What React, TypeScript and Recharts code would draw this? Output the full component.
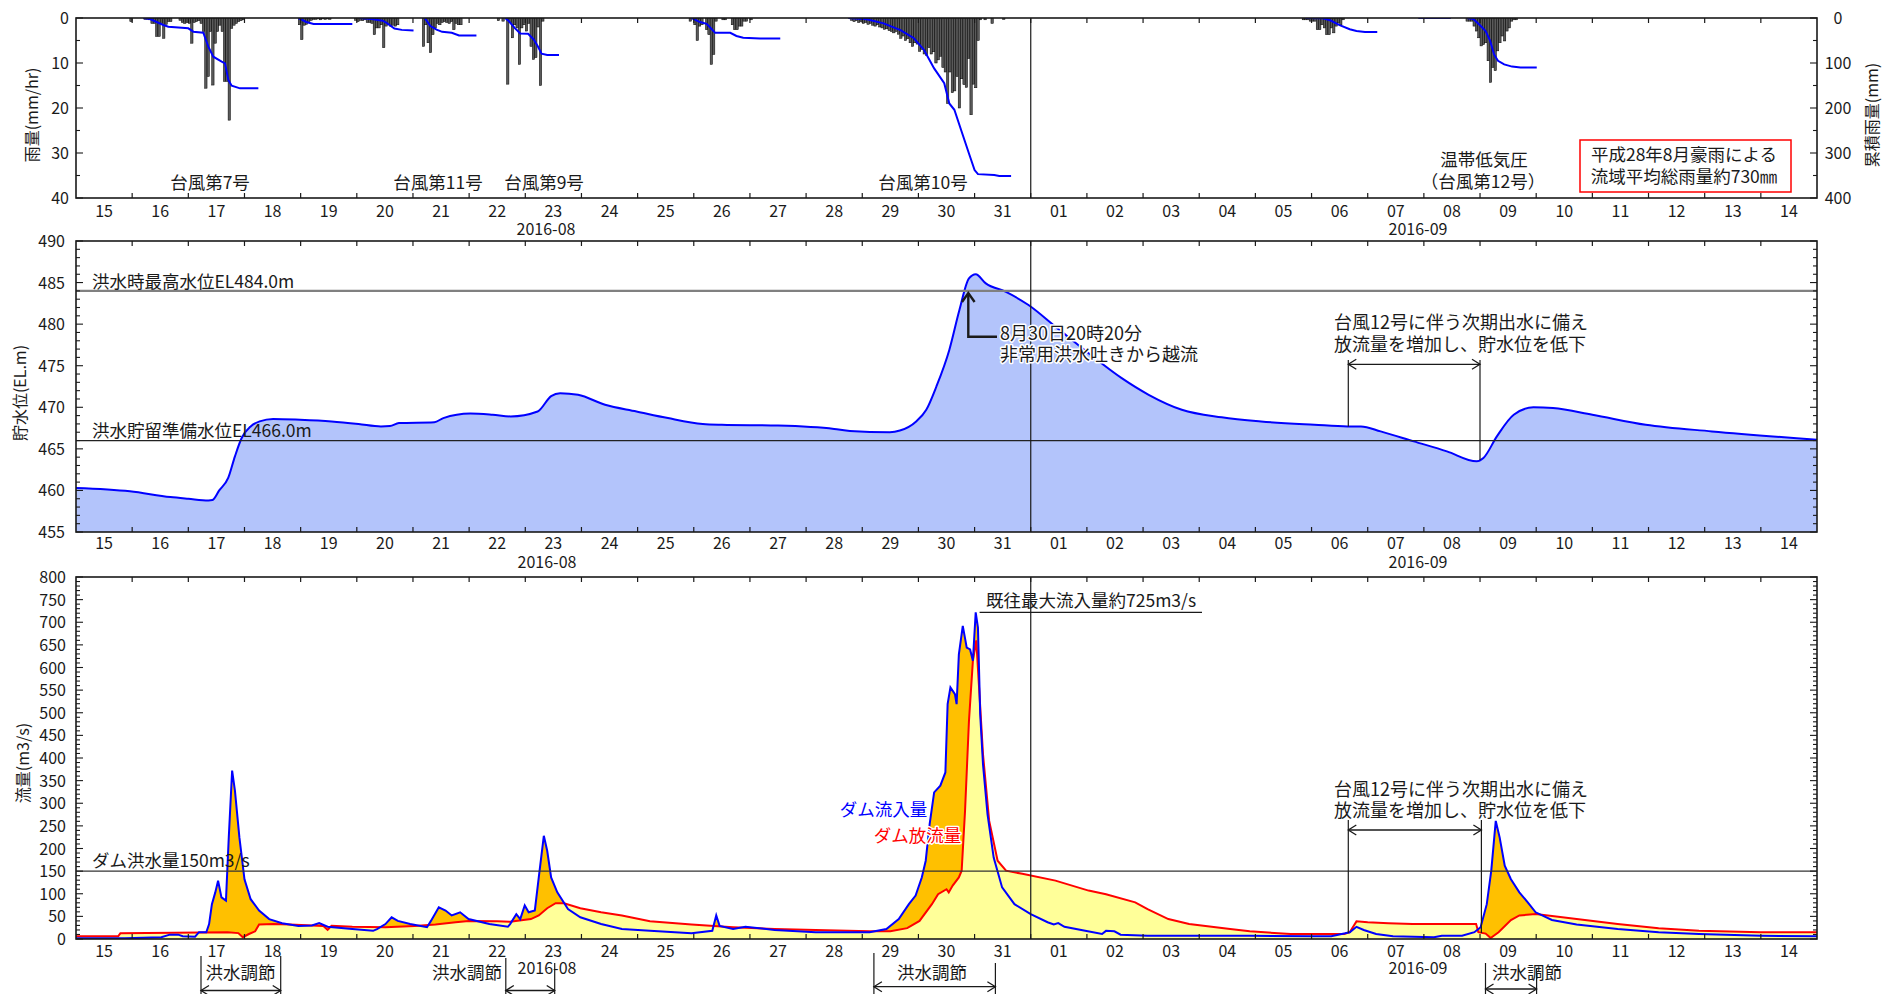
import React from 'react';
import { ComposedChart, Bar, Line, Area, XAxis, YAxis, ReferenceLine } from 'recharts';

const FONT = "'Noto Sans CJK JP', 'Noto Sans', sans-serif";
const PL = 76;
const PR = 1817;
const DAYW = (PR - PL) / 31;
const HOURW = DAYW / 24;

// x axis: days since 2016-08-15 00:00
const dayTicks = Array.from({ length: 32 }, (_, i) => i);
const dayLabels = ['15','16','17','18','19','20','21','22','23','24','25','26','27','28','29','30','31','01','02','03','04','05','06','07','08','09','10','11','12','13','14'];

// hourly rainfall (mm/hr); each storm: start hour (since Aug 15 00:00) + hourly values
const rainStartHours = [23, 29, 95, 119, 148, 180, 262, 331, 388, 524, 594];
const rainAug16 = [0.8];
const rainT7 = [0.3,0.3,0.4,1.2,1.2,4.1,4.1,1.2,4.5,1.4,0.8,0.8,0,0,0,0.5,1.0,1.2,1.0,1.2,5.6,1.0,0.8,0.6,1.2,3.0,15.6,13.0,3.0,14.9,5.6,3.0,1.6,3.0,14.1,14.1,22.7,2.3,1.6,1.2,0.8,0.6,0.4];
const rainAug19 = [1.5,4.8,1.6,1.4,0.8,0.5,0.3,0.3,0.2,0.4,0.2,0.3,0.2,0.3];
const rainAug20 = [0.5,0.8,0.5,0.6,0.4,1.0,1.0,1.2,3.7,2.2,2.2,1.5,6.6,1.8,1.5,1.8,1.6,1.8,1.5];
const rainT11 = [6.3,1.5,5.5,7.7,3.7,2.2,1.2,1.5,1.0,0.8,1.0,1.2,0.8,2.6,1.2,1.5,1.5];
const rainT9 = [0.6,0,0.7,0,14.7,1.0,4.4,1.5,2.2,10.3,2.2,1.5,2.9,1.2,6.3,9.2,8.8,2.0,15.0,0.7];
const rainAug26 = [0.7,0,1.5,5.0,1.8,1.5,0,2.6,3.7,10.3,8.1,0.7,0,0,0.4,0.4,0,0,1.5,2.6,2.6,1.8,1.8,0.7,0.7,0,0.4];
const rainT10 = [0.5,0.8,0.6,1.0,0.8,1.2,1.0,1.4,1.2,1.6,1.8,1.5,2.0,2.2,2.5,2.4,2.8,3.0,3.3,3.0,3.6,4.5,4.0,5.0,4.6,5.5,6.3,5.5,5.8,7.4,7.0,8.0,8.3,6.6,8.0,7.5,10.0,9.3,8.5,11.0,12.0,19.0,12.0,16.6,16.2,13.0,20.0,13.5,14.8,15.4,9.0,21.5,14.7,15.5,5.0,0.4];
const rainAug31 = [0.4,0,0,1.2,0,0,0,0,0.3];
const rainSep06 = [0.4,0.4,0.4,0.7,0.7,0.7,2.6,2.6,1.5,2.2,3.7,3.7,2.2,3.3,1.8,1.1,1.5,0.4];
const rainSep08 = [0.7,0.7,0.7,1.8,2.9,4.4,6.2,5.9,5.5,9.5,14.3,11.0,11.7,7.3,5.5,4.0,5.1,2.9,2.2,0.7,0.4,0.4];
const rainStorms = [rainAug16, rainT7, rainAug19, rainAug20, rainT11, rainT9, rainAug26, rainT10, rainAug31, rainSep06, rainSep08];

// cumulative rainfall per event [day, mm]
const cumT7: [number, number][] = [[1.2,0],[1.318,2.2],[1.555,15.6],[1.644,19.3],[2.0,23],[2.089,30.4],[2.267,32.6],[2.356,63.7],[2.445,86],[2.594,97],[2.653,100.7],[2.713,137.8],[2.772,150.4],[2.92,156.3],[3.247,156.3]];
const cumAug19: [number, number][] = [[3.96,0],[4.1,8.8],[4.23,13.2],[4.92,13.2]];
const cumAug20: [number, number][] = [[5.05,0],[5.26,2.2],[5.46,5.9],[5.53,11],[5.67,23.5],[5.8,26.4],[6.01,27.9]];
const cumT11: [number, number][] = [[6.21,0],[6.31,18],[6.42,25.7],[6.52,30.8],[6.69,33],[6.82,38.9],[7.13,38.9]];
const cumT9: [number, number][] = [[7.64,0],[7.71,7.3],[7.81,22],[7.91,34.5],[8.05,35.2],[8.15,47.7],[8.22,62.4],[8.29,79.3],[8.39,82.2],[8.6,82.2]];
const cumAug26: [number, number][] = [[10.96,0],[11.11,9],[11.23,13],[11.35,29],[11.38,33],[11.65,33],[11.76,40],[11.88,44],[12.18,45.5],[12.54,45.5]];
const cumT10: [number, number][] = [[13.75,0],[14.08,3],[14.38,12],[14.68,27],[14.92,45],[15.1,71],[15.28,112],[15.46,145],[15.55,190],[15.64,204],[15.76,249],[15.9,301],[16.0,338],[16.06,347],[16.35,349],[16.44,351],[16.65,351]];
const cumSep06: [number, number][] = [[21.89,0],[22.2,0.5],[22.33,5],[22.5,16],[22.68,25],[22.8,29],[22.95,31],[23.17,31]];
const cumSep07: [number, number][] = [[23.9,0],[24.48,0]];
const cumSep08: [number, number][] = [[24.77,0],[24.88,2],[24.99,15],[25.1,29],[25.18,51],[25.25,81],[25.32,95],[25.43,103],[25.57,108],[25.72,110],[26.01,110]];
const cumEvents = [cumT7, cumAug19, cumAug20, cumT11, cumT9, cumAug26, cumT10, cumSep06, cumSep07, cumSep08];

// reservoir water level [day, EL.m]
const waterLevel: [number, number][] = [[0,460.3],[0.96,459.9],[1.68,459.2],[2.0,459.0],[2.36,458.8],[2.43,458.85],[2.55,460.0],[2.71,461.5],[2.83,464.1],[2.95,466.3],[3.11,467.7],[3.27,468.3],[3.51,468.6],[3.99,468.5],[4.55,468.3],[5.03,468.0],[5.43,467.7],[5.59,467.75],[5.75,468.1],[6.38,468.2],[6.54,468.7],[7.02,469.25],[7.42,469.1],[7.74,468.9],[8.22,469.5],[8.46,471.35],[8.62,471.7],[8.94,471.5],[9.42,470.3],[9.98,469.5],[10.54,468.7],[11.16,468.0],[11.5,467.9],[12.5,467.8],[13.5,467.4],[13.78,467.15],[14.49,467.0],[14.67,467.2],[14.96,468.3],[15.14,469.7],[15.32,472.5],[15.55,476.9],[15.73,481.7],[15.9,485.5],[16.02,486.0],[16.2,484.9],[16.55,483.9],[16.96,482.3],[17.44,479.7],[18.03,476.5],[18.62,473.5],[19.1,471.5],[19.69,469.7],[20.4,468.8],[21.1,468.3],[22.05,467.9],[22.64,467.7],[22.88,467.7],[23.23,467.1],[23.82,465.9],[24.41,464.7],[24.94,463.5],[25.06,463.9],[25.3,466.5],[25.6,469.1],[25.95,470.0],[26.3,469.9],[27.0,469.1],[27.95,467.9],[29.13,467.1],[31,466.1]];

// dam inflow / outflow [day, m3/s]
const inflow: [number, number][] = [[0,1.5],[0.87,1.5],[1.52,3.7],[1.67,9.6],[1.82,9.6],[1.9,6],[2.12,5],[2.19,15],[2.32,15],[2.37,33],[2.42,77],[2.48,103],[2.53,129],[2.59,92],[2.67,85],[2.72,224],[2.78,372],[2.83,328],[2.91,224],[3.0,132],[3.11,88],[3.26,63],[3.44,44],[3.67,35],[3.96,29],[4.2,30],[4.33,35],[4.48,27],[4.92,22],[5.29,18],[5.36,22],[5.51,33],[5.62,48],[5.73,40],[5.95,33],[6.25,26],[6.32,40],[6.46,70],[6.58,63],[6.69,52],[6.84,59],[6.99,44],[7.36,33],[7.69,27],[7.73,33],[7.84,55],[7.91,44],[7.99,74],[8.06,59],[8.17,63],[8.24,136],[8.33,228],[8.39,195],[8.46,136],[8.57,103],[8.76,66],[8.98,48],[9.35,33],[9.72,22],[10.22,18],[10.96,12.5],[11.33,18],[11.4,52],[11.46,29],[11.7,22],[11.92,27],[12.44,20],[13.17,15],[14.13,15],[14.43,22],[14.65,44],[14.83,77],[14.95,96],[15.06,136],[15.13,173],[15.2,254],[15.28,324],[15.39,339],[15.48,368],[15.52,519],[15.57,556],[15.65,541],[15.68,519],[15.72,629],[15.79,692],[15.86,644],[15.92,640],[15.97,615],[16.02,722],[16.06,688],[16.1,497],[16.15,386],[16.23,276],[16.34,180],[16.49,114],[16.71,77],[17.0,55],[17.3,37],[17.41,32],[17.49,35],[17.6,27],[17.97,18],[18.27,11],[18.34,18],[18.49,17],[18.6,9.6],[19.08,7],[19.82,7],[20.9,7],[21.99,6],[22.35,6],[22.6,12.5],[22.68,15],[22.8,27],[22.93,20],[23.15,11],[23.45,6],[24.18,3.7],[24.32,7],[24.68,7],[24.9,15],[25.01,26],[25.12,77],[25.2,151],[25.28,261],[25.35,224],[25.44,162],[25.55,132],[25.7,103],[25.85,81],[25.99,59],[26.28,42],[26.72,32],[27.45,22],[28.18,15],[28.9,11],[30.0,7],[31,6]];
const outflow: [number, number][] = [[0,6],[0.75,6],[0.79,12.5],[2.7,15],[2.89,13],[2.97,4],[3.08,11],[3.19,17],[3.26,32],[3.52,33],[3.81,32],[4.4,29],[4.48,20],[4.55,29],[4.92,27],[5.51,26],[6.03,29],[6.4,32],[6.76,37],[6.99,40],[7.5,39],[7.73,38],[8.1,44],[8.24,52],[8.39,68],[8.54,79],[8.69,79],[8.98,68],[9.35,59],[9.72,52],[10.22,39],[10.96,32],[11.7,26],[12.44,22],[13.17,20],[14.13,17],[14.5,17],[14.8,24],[15.02,40],[15.24,77],[15.35,99],[15.5,110],[15.54,103],[15.61,118],[15.72,136],[15.77,151],[15.83,283],[15.9,482],[15.97,615],[16.03,660],[16.08,556],[16.15,408],[16.26,261],[16.41,173],[16.56,151],[16.85,144],[17.44,129],[18.03,107],[18.34,99],[18.86,81],[19.08,66],[19.45,44],[19.82,33],[20.55,22],[20.9,17],[21.63,11],[22.58,11],[22.68,15],[22.8,39],[23.0,37],[23.37,35],[23.8,33],[24.53,33],[24.93,33],[24.97,15],[25.1,12],[25.19,2],[25.22,5],[25.33,15],[25.55,42],[25.7,52],[25.99,55],[26.72,44],[27.45,33],[28.18,24],[28.9,18],[30.0,15],[31,15]];

const rainTicks = [0,5,10,15,20,25,30,35,40];
const cumTicks = [0,50,100,150,200,250,300,350,400];
const levelTicks = Array.from({ length: 36 }, (_, i) => 455 + i);
const flowTicks = Array.from({ length: 81 }, (_, i) => i * 10);

// ---- derived tables for the library ----
const rainData = rainStorms.flatMap((arr, k) =>
  arr.map((v, i) => ({ x: (rainStartHours[k] + i + 0.5) / 24, rain: v })).filter((p) => p.rain > 0)
);
const toPts = (arr: [number, number][]) => arr.map(([x, v]) => ({ x, v }));
const levelData = toPts(waterLevel);
const inflowData = toPts(inflow);
const outflowData = toPts(outflow);

const INK = '#1a1a1a';

// hourly bar drawn one hour wide around the bar's own centre (position/height from the library)
const RainBar = (props: any) => {
  const { x, y, width, height } = props;
  if (height == null || width == null) return null;
  const cx = x + width / 2;
  const top = Math.min(y, y + height);
  const h = Math.abs(height);
  const w = HOURW;
  return <rect x={cx - w / 2} y={top} width={w} height={h} fill="#5a5a5a" stroke="#000000" strokeWidth={0.5} />;
};

const makeXTick = (top: number, bottom: number, labelY: number) => (props: any) => {
  const { x, payload } = props;
  const d = payload.value;
  const inner = d > 0 && d < 31;
  return (
    <g>
      {inner && <line x1={x} x2={x} y1={bottom} y2={bottom - 5} stroke={INK} strokeWidth={1.2} />}
      {inner && <line x1={x} x2={x} y1={top} y2={top + 5} stroke={INK} strokeWidth={1.2} />}
      {d < 31 && (
        <text x={x + DAYW / 2} y={labelY} textAnchor="middle" fontSize={16} fontFamily={FONT} fill={INK}>
          {dayLabels[d]}
        </text>
      )}
    </g>
  );
};

const makeYTick = (cfg: { every: number; labelX: number; anchor: 'end' | 'middle'; side: 'left' | 'right' | 'both' }) => (props: any) => {
  const { y, payload } = props;
  const v = Math.round(payload.value);
  const major = v % cfg.every === 0;
  const len = major ? 7 : 4;
  return (
    <g>
      {(cfg.side === 'left' || cfg.side === 'both') && <line x1={PL} x2={PL + len} y1={y} y2={y} stroke={INK} strokeWidth={1.1} />}
      {(cfg.side === 'right' || cfg.side === 'both') && <line x1={PR} x2={PR - len} y1={y} y2={y} stroke={INK} strokeWidth={1.1} />}
      {major && (
        <text x={cfg.labelX} y={y + 6} textAnchor={cfg.anchor} fontSize={16} fontFamily={FONT} fill={INK}>
          {v}
        </text>
      )}
    </g>
  );
};

const T = (p: { x: number; y: number; children: React.ReactNode; anchor?: string; size?: number; fill?: string; halo?: boolean }) => (
  <text
    x={p.x}
    y={p.y}
    textAnchor={(p.anchor as any) || 'start'}
    fontSize={p.size || 17.5}
    fontFamily={FONT}
    fill={p.fill || INK}
    stroke={p.halo ? '#ffffff' : undefined}
    strokeWidth={p.halo ? 3 : undefined}
    paintOrder="stroke"
    strokeLinejoin="round"
  >
    {p.children}
  </text>
);

const DoubleArrow = ({ x1, x2, y }: { x1: number; x2: number; y: number }) => (
  <g stroke={INK} strokeWidth={1.3} fill="none">
    <line x1={x1} x2={x2} y1={y} y2={y} />
    <polyline points={`${x1 + 8},${y - 5} ${x1},${y} ${x1 + 8},${y + 5}`} />
    <polyline points={`${x2 - 8},${y - 5} ${x2},${y} ${x2 - 8},${y + 5}`} />
  </g>
);

const Bracket = ({ x1, x2, top1, top2, y, label, lx, anchor }: any) => (
  <g>
    <line x1={x1} x2={x1} y1={top1} y2={994} stroke={INK} strokeWidth={1.2} />
    <line x1={x2} x2={x2} y1={top2} y2={994} stroke={INK} strokeWidth={1.2} />
    <DoubleArrow x1={x1} x2={x2} y={y} />
    <T x={lx} y={979} anchor={anchor || 'middle'}>{label}</T>
  </g>
);

export default function App() {
  return (
    <div style={{ position: 'absolute', left: 0, top: 0, width: 1892, height: 994, background: '#ffffff', overflow: 'hidden' }}>
      {/* Panel 1: rainfall */}
      <div style={{ position: 'absolute', left: 0, top: 0 }}>
        <ComposedChart width={1892} height={240} data={rainData} margin={{ top: 18, right: 0, bottom: 0, left: 0 }}>
          <XAxis type="number" dataKey="x" domain={[0, 31]} allowDataOverflow ticks={dayTicks} interval={0} height={42} axisLine={false} tickLine={false} tick={makeXTick(18, 198, 217)} />
          <YAxis yAxisId="rain" domain={[0, 40]} reversed ticks={rainTicks} interval={0} width={76} axisLine={false} tickLine={false} allowDataOverflow tick={makeYTick({ every: 10, labelX: 69, anchor: 'end', side: 'left' })} />
          <YAxis yAxisId="cum" orientation="right" domain={[0, 400]} reversed ticks={cumTicks} interval={0} width={75} axisLine={false} tickLine={false} allowDataOverflow tick={makeYTick({ every: 100, labelX: 1838, anchor: 'middle', side: 'right' })} />
          <Bar yAxisId="rain" dataKey="rain" barSize={2} fill="#5a5a5a" shape={RainBar} isAnimationActive={false} />
          {cumEvents.map((ev, i) => (
            <Line key={i} yAxisId="cum" data={toPts(ev)} dataKey="v" type="linear" stroke="#0000ff" strokeWidth={2} dot={false} isAnimationActive={false} />
          ))}
          <ReferenceLine yAxisId="rain" x={17} stroke={INK} strokeWidth={1.2} />
        </ComposedChart>
      </div>

      {/* Panel 2: water level */}
      <div style={{ position: 'absolute', left: 0, top: 220 }}>
        <ComposedChart width={1892} height={350} data={levelData} margin={{ top: 21, right: 75, bottom: 0, left: 0 }}>
          <XAxis type="number" dataKey="x" domain={[0, 31]} allowDataOverflow ticks={dayTicks} interval={0} height={38} axisLine={false} tickLine={false} tick={makeXTick(21, 312, 329)} />
          <YAxis domain={[455, 490]} ticks={levelTicks} interval={0} width={76} axisLine={false} tickLine={false} allowDataOverflow tick={makeYTick({ every: 5, labelX: 65, anchor: 'end', side: 'both' })} />
          <Area dataKey="v" type="monotone" baseValue={455} stroke="#0000ff" strokeWidth={2} fill="#b3c4fb" fillOpacity={1} isAnimationActive={false} />
          <ReferenceLine y={484} stroke="#808080" strokeWidth={2.2} />
          <ReferenceLine y={466} stroke="#222222" strokeWidth={1.3} />
          <ReferenceLine x={17} stroke={INK} strokeWidth={1.2} />
        </ComposedChart>
      </div>

      {/* Panel 3: discharge */}
      <div style={{ position: 'absolute', left: 0, top: 556 }}>
        <ComposedChart width={1892} height={438} margin={{ top: 21, right: 75, bottom: 0, left: 0 }}>
          <XAxis type="number" dataKey="x" domain={[0, 31]} allowDataOverflow ticks={dayTicks} interval={0} height={55} axisLine={false} tickLine={false} tick={makeXTick(21, 383, 401)} />
          <YAxis domain={[0, 800]} ticks={flowTicks} interval={0} width={76} axisLine={false} tickLine={false} allowDataOverflow tick={makeYTick({ every: 50, labelX: 66, anchor: 'end', side: 'both' })} />
          <Area data={inflowData} dataKey="v" type="linear" baseValue={0} stroke="none" fill="#ffc000" fillOpacity={1} isAnimationActive={false} />
          <Area data={outflowData} dataKey="v" type="linear" baseValue={0} stroke="none" fill="#ffff99" fillOpacity={1} isAnimationActive={false} />
          <Line data={outflowData} dataKey="v" type="linear" stroke="#ff0000" strokeWidth={2} dot={false} isAnimationActive={false} />
          <Line data={inflowData} dataKey="v" type="linear" stroke="#0000ff" strokeWidth={2} dot={false} isAnimationActive={false} />
          <ReferenceLine y={150} stroke="#333333" strokeWidth={1.2} />
          <ReferenceLine x={17} stroke={INK} strokeWidth={1.2} />
        </ComposedChart>
      </div>

      {/* Overlay: frames, titles, annotations */}
      <svg width={1892} height={994} style={{ position: 'absolute', left: 0, top: 0, pointerEvents: 'none' }}>
        <rect x={PL} y={18} width={PR - PL} height={180} fill="none" stroke={INK} strokeWidth={1.6} />
        <rect x={PL} y={241} width={PR - PL} height={291} fill="none" stroke={INK} strokeWidth={1.6} />
        <rect x={PL} y={577} width={PR - PL} height={362} fill="none" stroke={INK} strokeWidth={1.6} />

        {/* axis titles */}
        <text transform="translate(38,115) rotate(-90)" textAnchor="middle" fontSize={16} fontFamily={FONT} fill={INK}>雨量(mm/hr)</text>
        <text transform="translate(1878,115) rotate(-90)" textAnchor="middle" fontSize={16} fontFamily={FONT} fill={INK}>累積雨量(mm)</text>
        <text transform="translate(26,393) rotate(-90)" textAnchor="middle" fontSize={16} fontFamily={FONT} fill={INK}>貯水位(EL.m)</text>
        <text transform="translate(29,763) rotate(-90)" textAnchor="middle" fontSize={16} fontFamily={FONT} fill={INK}>流量(m3/s)</text>

        {/* month labels */}
        <T x={546} y={235} anchor="middle" size={16}>2016-08</T>
        <T x={1418} y={235} anchor="middle" size={16}>2016-09</T>
        <T x={547} y={568} anchor="middle" size={16}>2016-08</T>
        <T x={1418} y={568} anchor="middle" size={16}>2016-09</T>
        <T x={547} y={974} anchor="middle" size={16}>2016-08</T>
        <T x={1418} y={974} anchor="middle" size={16}>2016-09</T>

        {/* panel 1 annotations */}
        <T x={210} y={189} anchor="middle">台風第7号</T>
        <T x={438} y={189} anchor="middle">台風第11号</T>
        <T x={544} y={189} anchor="middle">台風第9号</T>
        <T x={923} y={189} anchor="middle">台風第10号</T>
        <T x={1484} y={166} anchor="middle">温帯低気圧</T>
        <T x={1483} y={188} anchor="middle">（台風第12号）</T>
        <rect x={1580} y={140} width={211} height={52} fill="#ffffff" stroke="#ff0000" strokeWidth={1.5} />
        <T x={1684} y={161} anchor="middle">平成28年8月豪雨による</T>
        <T x={1684} y={183} anchor="middle">流域平均総雨量約730㎜</T>

        {/* panel 2 annotations */}
        <T x={92} y={288}>洪水時最高水位EL484.0m</T>
        <T x={92} y={437}>洪水貯留準備水位EL466.0m</T>
        <g stroke={INK} strokeWidth={2.4} fill="none">
          <polyline points="997,336.7 968.3,336.7 968.3,293" />
          <polyline points="962,302 968.3,293 974.6,302" />
        </g>
        <T x={1000} y={340} size={18} halo>8月30日20時20分</T>
        <T x={1000} y={361} size={18} halo>非常用洪水吐きから越流</T>
        <T x={1334} y={329} size={18}>台風12号に伴う次期出水に備え</T>
        <T x={1334} y={351} size={18}>放流量を増加し、貯水位を低下</T>
        <line x1={1348.3} x2={1348.3} y1={360} y2={426.5} stroke={INK} strokeWidth={1.2} />
        <line x1={1480} x2={1480} y1={360} y2={460} stroke={INK} strokeWidth={1.2} />
        <DoubleArrow x1={1348.3} x2={1480} y={364.3} />

        {/* panel 3 annotations */}
        <T x={92} y={867}>ダム洪水量150m3/s</T>
        <T x={986} y={607}>既往最大流入量約725m3/s</T>
        <line x1={979.6} x2={1202} y1={612.3} y2={612.3} stroke={INK} strokeWidth={1.3} />
        <T x={883.5} y={816} anchor="middle" fill="#0000ff" halo>ダム流入量</T>
        <T x={917.5} y={842} anchor="middle" fill="#ff0000" halo>ダム放流量</T>
        <T x={1334} y={796} size={18}>台風12号に伴う次期出水に備え</T>
        <T x={1334} y={817} size={18}>放流量を増加し、貯水位を低下</T>
        <line x1={1348.3} x2={1348.3} y1={820} y2={933} stroke={INK} strokeWidth={1.2} />
        <line x1={1481.4} x2={1481.4} y1={820} y2={933} stroke={INK} strokeWidth={1.2} />
        <DoubleArrow x1={1348.3} x2={1481.4} y={830} />

        <Bracket x1={201} x2={280.7} top1={956} top2={956} y={990.5} label="洪水調節" lx={240.5} />
        <Bracket x1={505.8} x2={554.7} top1={958} top2={963} y={990.5} label="洪水調節" lx={502} anchor="end" />
        <Bracket x1={873.9} x2={995.4} top1={953} top2={963} y={986.7} label="洪水調節" lx={932} />
        <Bracket x1={1485.5} x2={1536.6} top1={963} top2={968} y={989} label="洪水調節" lx={1527} />
      </svg>
    </div>
  );
}
